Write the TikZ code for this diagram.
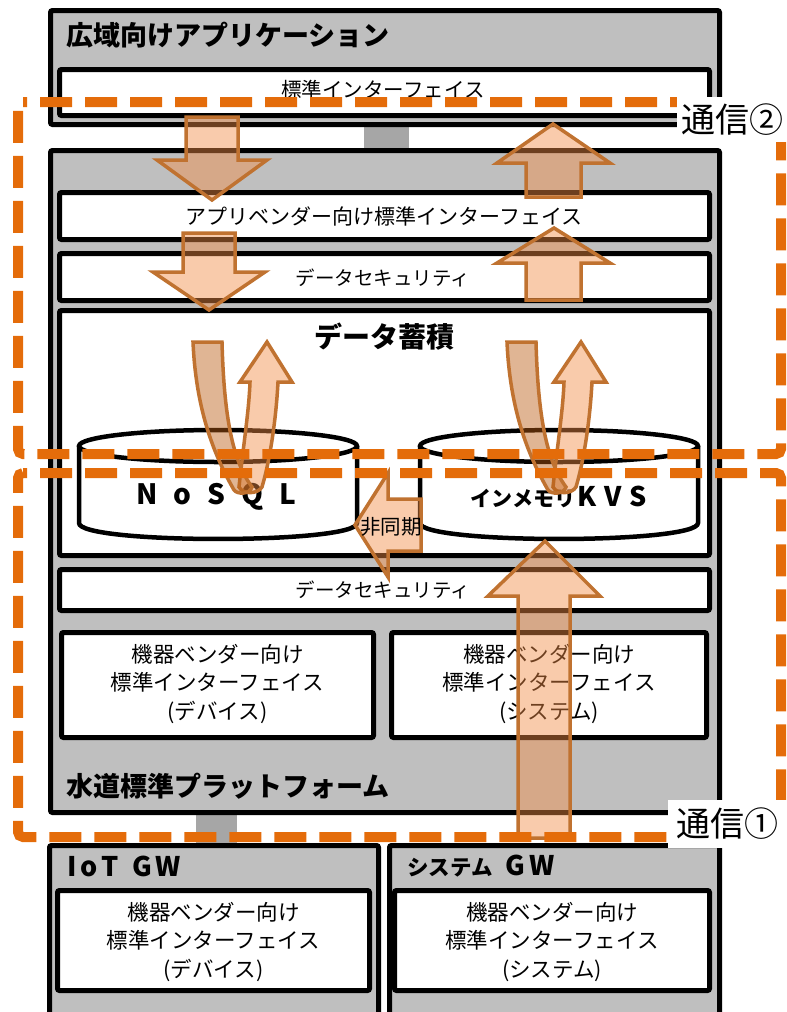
\documentclass[tikz,border=0pt]{standalone}
\usepackage{fontspec}
\newfontfamily\jp{Noto Sans CJK JP}
\definecolor{boxgray}{RGB}{191,191,191}
\definecolor{conngray}{RGB}{166,166,166}
\definecolor{commorange}{RGB}{228,108,10}
\definecolor{arrfill}{RGB}{242,140,70}
\definecolor{arrfilldark}{RGB}{187,93,18}
\definecolor{arrline}{RGB}{192,114,48}
\newcommand\myuturn{%
  \draw[blockarrow] (239,487) .. controls (244,440) and (249,410) .. (250,382) -- (240,382) -- (267,342) -- (292,382) -- (278,382) .. controls (276,420) and (270,460) .. (262,487) .. controls (258,494) and (243,495) .. (239,487) -- cycle;
  \draw[bandarrow] (193,342) -- (222,342) .. controls (224,415) and (232,460) .. (252,487) .. controls (250,494) and (238,495) .. (234,490) .. controls (214,455) and (196,410) .. (193,342) -- cycle;
}
\begin{document}
\begin{tikzpicture}[x=1pt,y=-1pt,
  box/.style={draw=black,line width=5pt,rounded corners=2pt},
  graybox/.style={box,fill=boxgray},
  whitebox/.style={box,fill=white},
  conn/.style={fill=conngray},
  cylline/.style={draw=black,line width=4.5pt},
  blockarrow/.style={draw=arrline,line width=3.5pt,fill=arrfill,fill opacity=0.45},
  bandarrow/.style={blockarrow,fill=arrfilldark},
  comm/.style={draw=commorange,line width=10pt,dash pattern=on 32pt off 13pt,rounded corners=5pt},
  commlabel/.style={fill=white,inner sep=0pt,font={\jp\fontsize{34}{34}\selectfont}},
  title/.style={anchor=west,inner sep=0pt,font={\jp\bfseries\fontsize{27}{30}\selectfont}},
  txt/.style={inner sep=0pt,align=center,font={\jp\fontsize{20.5}{28}\selectfont}},
  vtxt/.style={inner sep=0pt,align=center,font={\jp\fontsize{21.5}{28.5}\selectfont}},
]
\useasboundingbox (0,0) rectangle (787,1012);
\clip (0,0) rectangle (787,1012);

% connectors between layers
\fill[conn] (364,120) rectangle (409,155);
\fill[conn] (196,808) rectangle (237,850);

% wide-area application
\draw[graybox] (50.5,10.5) rectangle (719.5,124.5);
\draw[whitebox] (59.5,69.5) rectangle (709.5,115.5);
% platform
\draw[graybox] (50.5,150.5) rectangle (719.5,812.5);
\draw[whitebox] (59.5,192.5) rectangle (709.5,239.5);
\draw[whitebox] (59.5,253.5) rectangle (709.5,300.5);
\draw[whitebox] (59.5,310.5) rectangle (709.5,555.5);
\draw[whitebox] (59.5,569.5) rectangle (709.5,610.5);
\draw[whitebox] (61.5,632.5) rectangle (373.5,737.5);
\draw[whitebox] (391.5,632.5) rectangle (706.5,737.5);
% gateways
\draw[graybox] (49.5,845.5) rectangle (378.5,1030);
\draw[graybox] (389.5,845.5) rectangle (719.5,1030);
\draw[whitebox] (57.5,890.5) rectangle (369.5,990.5);
\draw[whitebox] (394.5,890.5) rectangle (709.5,990.5);

% cylinders
\foreach \cx in {218,559}{
  \fill[white] (\cx-139,446) .. controls (\cx-139,424.7) and (\cx+139,424.7) .. (\cx+139,446) -- (\cx+139,523) .. controls (\cx+139,544.3) and (\cx-139,544.3) .. (\cx-139,523) -- cycle;
  \draw[cylline] (\cx-139,446) -- (\cx-139,523) .. controls (\cx-139,544.3) and (\cx+139,544.3) .. (\cx+139,523) -- (\cx+139,446);
  \draw[cylline] (\cx,446) ellipse [x radius=139, y radius=16];
}

% texts
\node[title] (app) at (66,35) {広域向けアプリケーション};
\node[txt] (stdif) at (383,90) {標準インターフェイス};
\node[txt,font={\jp\fontsize{21}{28}\selectfont}] (appif) at (384,216) {アプリベンダー向け標準インターフェイス};
\node[txt,font={\jp\fontsize{19.5}{28}\selectfont}] (sec1) at (383,278) {データセキュリティ};
\node[inner sep=0pt,font={\jp\bfseries\fontsize{28}{30}\selectfont}] (store) at (384,337) {データ蓄積};
\node[inner sep=0pt,font={\jp\bfseries\fontsize{28}{30}\selectfont}] (nosql) at (216,497) {N\kern16pt o\kern16pt S\kern16pt Q\kern16pt L};
\node[inner sep=0pt,font={\jp\bfseries\fontsize{27}{30}\selectfont}] (kvs) at (559,497) {{\fontsize{21}{26}\selectfont インメモリ}\kern2pt K\kern8pt V\kern8pt S};
\node[txt,font={\jp\fontsize{19.5}{28}\selectfont}] (sec2) at (383,590) {データセキュリティ};
\node[vtxt] (devif) at (217.5,684) {機器ベンダー向け\\標準インターフェイス\\(デバイス)};
\node[vtxt] (sysif) at (549,684) {機器ベンダー向け\\標準インターフェイス\\(システム)};
\node[title] (plat) at (66,786) {水道標準プラットフォーム};
\node[title,font={\jp\bfseries\fontsize{27}{30}\selectfont}] (iotgw) at (67,866) {I\kern4pt o\kern4pt T\kern13pt G\kern4pt W};
\node[title,font={\jp\bfseries\fontsize{27}{30}\selectfont}] (sysgw) at (407,866) {{\fontsize{21.5}{26}\selectfont システム}\kern13pt G\kern4pt W};
\node[vtxt] (gwdev) at (213.5,942) {機器ベンダー向け\\標準インターフェイス\\(デバイス)};
\node[vtxt] (gwsys) at (552,942) {機器ベンダー向け\\標準インターフェイス\\(システム)};

% block arrows
\draw[blockarrow] (186,117) -- (238,117) -- (238,160) -- (267,160) -- (212,200) -- (157,160) -- (186,160) -- cycle;
\draw[blockarrow] (183,233) -- (235,233) -- (235,272) -- (265,272) -- (209,310) -- (153,272) -- (183,272) -- cycle;
\draw[blockarrow] (526,197) -- (581,197) -- (581,163) -- (610,163) -- (553,124) -- (497,163) -- (526,163) -- cycle;
\draw[blockarrow] (526,300) -- (581,300) -- (581,263) -- (610,263) -- (554,228) -- (497,263) -- (526,263) -- cycle;
\draw[blockarrow] (518,838) -- (570,838) -- (570,596) -- (600,596) -- (545,541) -- (488,596) -- (518,596) -- cycle;
\draw[blockarrow] (421,499) -- (421,551) -- (388,551) -- (388,577) -- (355,525) -- (388,473) -- (388,499) -- cycle;
\myuturn
\begin{scope}[xshift=314pt]
\myuturn
\end{scope}
\node[txt] (async) at (391,527) {非同期};

% communication ranges
\draw[comm,dash phase=28pt] (18,102) -- (781,102) -- (781,454) -- (18,454) -- cycle;
\draw[comm,dash phase=28pt] (18,473) -- (781,473) -- (781,837) -- (18,837) -- cycle;
\node[commlabel,minimum width=110pt,minimum height=45pt] (c2) at (732,119.5) {通信②};
\node[commlabel,minimum width=119pt,minimum height=48pt] (c1) at (727.5,824) {通信①};
\end{tikzpicture}
\end{document}
